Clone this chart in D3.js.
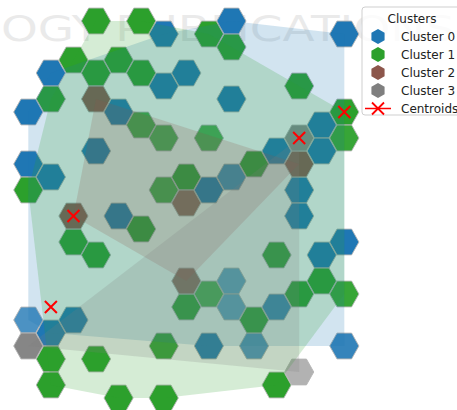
<!DOCTYPE html>
<html><head><meta charset="utf-8">
<script src="https://cdn.jsdelivr.net/npm/d3@7"></script>
<style>html,body{margin:0;padding:0;background:#fff;}svg{display:block;}</style>
</head><body>
<svg id="chart" width="457" height="410"></svg>
<script>
// ---- data: SOM grid cells [column, half-row] per cluster ----
const clusterNames = ["Cluster 0", "Cluster 1", "Cluster 2", "Cluster 3"];
const cellsC0 = [[9,1],[6,2],[14,2],[1,5],[7,5],[6,6],[9,7],[0,8],[4,8],[13,9],[3,11],[11,11],[13,11],[0,12],[1,13],[9,13],[8,14],[12,14],[4,16],[12,16],[14,18],[13,19],[9,21],[9,23],[11,23],[0,24],[2,24],[1,25],[8,26],[10,26],[14,26]];
const densC0 = [1,1,1,1,1,1,1,1,1,1,1,1,1,1,1,0.85,1,1,1,1,1,1,0.7,0.7,0.9,0.8,1,1,1,0.8,0.9];
const cellsC1 = [[3,1],[5,1],[8,2],[9,3],[2,4],[4,4],[3,5],[5,5],[12,6],[1,7],[14,8],[5,9],[6,10],[8,10],[14,10],[10,12],[7,13],[0,14],[6,14],[5,17],[2,18],[3,19],[11,19],[13,21],[8,22],[12,22],[14,22],[7,23],[10,24],[6,26],[1,27],[3,27],[1,29],[11,29],[4,30],[6,30]];
const densC1 = [1,1,1,1,1,1,1,1,1,1,1,0.9,0.85,0.85,0.95,1,1,1,0.9,1,1,1,1,1,0.85,1,0.95,1,1,1,1,1,1,1,1,1];
const cellsC2 = [[3,7],[12,12],[7,15],[2,16],[7,21]];
const densC2 = [1,1,0.9,1,0.9];
const cellsC3 = [[12,10],[0,26],[12,28]];
const densC3 = [0.9,0.95,0.6];
const centroidCells = [[14,8],[12,10],[2,16],[1,23]];
const colors = ["#1f77b4","#2ca02c","#8c564b","#7f7f7f"];

const clusters = [cellsC0, cellsC1, cellsC2, cellsC3].map((cells, k) => ({
  k, cells, dens: [densC0, densC1, densC2, densC3][k]
}));

const svg = d3.select("#chart");
const x = d3.scaleLinear().domain([0, 14]).range([28.3, 344.3]);
const y = d3.scaleLinear().domain([0, 30]).range([8, 398]);
const alpha = d3.scaleLinear().domain([0, 1]).range([0, 1]);

// watermark (background)
svg.append("text").attr("x", 1).attr("y", 41)
  .attr("font-family", "DejaVu Sans").attr("font-size", 36)
  .attr("textLength", 454).attr("lengthAdjust", "spacingAndGlyphs")
  .attr("fill", "#000").attr("opacity", 0.08)
  .text("OGY PUBLICATIONS");

const RX = 14.6, RY = 12.9;
function hexPath(cx, cy, rx, ry) {
  const pts = [[cx+rx,cy],[cx+rx/2,cy+ry],[cx-rx/2,cy+ry],[cx-rx,cy],[cx-rx/2,cy-ry],[cx+rx/2,cy-ry]];
  return "M" + pts.map(p => p.join(",")).join("L") + "Z";
}

// hexagons
const gHex = svg.append("g");
clusters.forEach(c => {
  gHex.selectAll(null).data(c.cells.map((d, i) => ({d, a: c.dens[i]}))).join("path")
    .attr("d", o => hexPath(x(o.d[0]), y(o.d[1]), RX, RY))
    .attr("fill", colors[c.k]).attr("fill-opacity", o => alpha(o.a))
    .attr("stroke", "#b4b4b4").attr("stroke-width", 0.9);
});

// convex hulls on top
const gHull = svg.append("g");
clusters.forEach(c => {
  const pts = c.cells.map(d => [x(d[0]), y(d[1])]);
  const hull = d3.polygonHull(pts);
  if (hull) {
    gHull.append("path").attr("d", "M" + hull.map(p => p.join(",")).join("L") + "Z")
      .attr("fill", colors[c.k]).attr("fill-opacity", 0.2).attr("stroke", "none");
  }
});

// centroids
const cs = 6;
const gC = svg.append("g");
centroidCells.forEach(d => {
  const cx = x(d[0]), cy = y(d[1]);
  gC.append("path").attr("d", `M${cx-cs},${cy-cs}L${cx+cs},${cy+cs}M${cx-cs},${cy+cs}L${cx+cs},${cy-cs}`)
    .attr("stroke", "#ff0000").attr("stroke-width", 2).attr("fill", "none");
});

// legend
const lg = svg.append("g");
lg.append("rect").attr("x", 362).attr("y", 7).attr("width", 110).attr("height", 108).attr("rx", 3)
  .attr("fill", "#fff").attr("fill-opacity", 0.8).attr("stroke", "#cfcfcf").attr("stroke-width", 1);
lg.append("text").attr("x", 412).attr("y", 22.5).attr("text-anchor", "middle")
  .attr("font-family", "DejaVu Sans").attr("font-size", 12).attr("fill", "#222").text("Clusters");
const legendItems = clusterNames.concat(["Centroids"]);
const ly = d3.scalePoint().domain(legendItems).range([36.5, 108.5]);
legendItems.forEach((name, i) => {
  const cy = ly(name);
  if (i < 4) {
    const r = 7.6;
    const pts = d3.range(6).map(j => {
      const a = Math.PI / 2 + j * Math.PI / 3;
      return [378 + r * Math.cos(a), cy - r * Math.sin(a)];
    });
    lg.append("path").attr("d", "M" + pts.map(p => p.join(",")).join("L") + "Z").attr("fill", colors[i]);
  } else {
    lg.append("line").attr("x1", 365).attr("x2", 391).attr("y1", cy).attr("y2", cy)
      .attr("stroke", "#ff0000").attr("stroke-width", 1.5);
    lg.append("path").attr("d", `M${378-cs},${cy-cs}L${378+cs},${cy+cs}M${378-cs},${cy+cs}L${378+cs},${cy-cs}`)
      .attr("stroke", "#ff0000").attr("stroke-width", 1.8);
  }
  lg.append("text").attr("x", 401).attr("y", cy + 4.3)
    .attr("font-family", "DejaVu Sans").attr("font-size", 12).attr("fill", "#222").text(name);
});
</script>
</body></html>
